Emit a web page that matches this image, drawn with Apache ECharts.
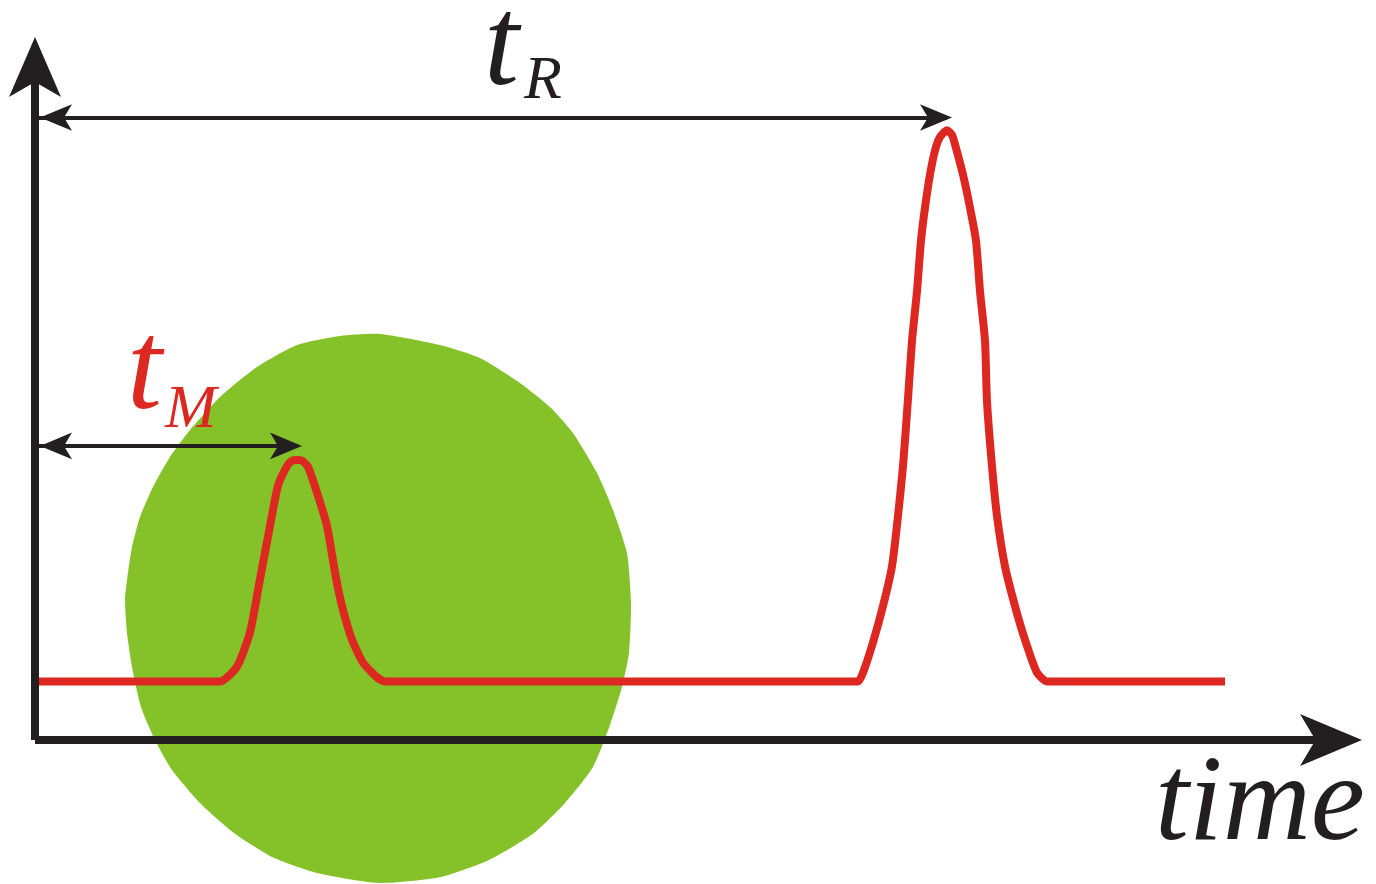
<!DOCTYPE html>
<html>
<head>
<meta charset="utf-8">
<title>Retention time</title>
<script src="https://cdn.jsdelivr.net/npm/echarts@6/dist/echarts.min.js"></script>
<style>
  html, body { margin: 0; padding: 0; background: #ffffff; }
  #main { width: 1376px; height: 884px; }
</style>
</head>
<body>
<div id="main"></div>
<script>
// Chromatogram trace: detector signal against elution time (min)
const timeMin = [
  0.03, 1.85, 2.02, 2.15, 2.25, 2.35, 2.43, 2.52, 2.57, 2.62, 2.67, 2.73, 2.83, 2.92,
  3.00, 3.07, 3.17, 3.28, 3.42, 3.50,
  8.23, 8.28, 8.38, 8.48, 8.57, 8.63, 8.68, 8.73, 8.77, 8.82, 8.86, 8.90,
  8.95, 9.00, 9.05, 9.12, 9.17, 9.20, 9.28, 9.35, 9.41, 9.45, 9.50, 9.52, 9.57, 9.62,
  9.70, 9.80, 9.90, 10.02, 10.12, 11.90
];
const signal = [
  8.7, 8.7, 10.9, 16.0, 23.9, 31.8, 37.8, 40.7, 41.5, 41.6, 41.5, 40.6, 36.3, 31.8,
  24.9, 19.9, 14.9, 11.5, 9.3, 8.7,
  8.7, 10.0, 14.5, 19.9, 25.8, 33.3, 40.7, 50.7, 59.3, 66.7, 74.2, 79.1,
  84.0, 87.6, 89.6, 90.6, 89.9, 88.5, 84.0, 79.1, 74.2, 66.7, 59.3, 50.3, 40.7, 33.3,
  25.8, 19.9, 14.9, 10.0, 8.7, 8.7
];

// Peak apexes: unretained (M) and retained (R) components
const tM = 2.62, hM = 41.6;
const tR = 9.12, hR = 90.6;

const axisName = 'time';
const labelT = 't';
const subR = 'R';
const subM = 'M';

const INK = '#231F20';
const RED = '#DC2820';
const GREEN = '#85C229';
const SERIF = '"Liberation Serif", "Times New Roman", serif';

const chart = echarts.init(document.getElementById('main'), null, { renderer: 'canvas' });

const gridBox = { left: 35, top: 67, right: 41, bottom: 144 };

// Sample spot drawn behind the first peak
const spot = [
  [380,334],[440,345],[480,358],[520,383],[550,407],[573,433],[597,473],[613,510],
  [627,553],[631,603],[629,653],[622,687],[610,725],[593,767],[565,803],[534,833],
  [489,860],[441,877],[379,883],[317,873],[272,857],[234,833],[200,803],[172,770],
  [155,740],[141,707],[132,667],[127,633],[125,600],[127,580],[132,547],[140,517],
  [153,487],[170,457],[190,430],[220,397],[257,367],[297,345],[340,336]
];

function axisCommon(extra) {
  return Object.assign({
    type: 'value',
    z: 5,
    axisTick: { show: false },
    axisLabel: { show: false },
    splitLine: { show: false }
  }, extra);
}

const option = {
  animation: false,
  backgroundColor: '#ffffff',
  grid: gridBox,
  xAxis: axisCommon({
    min: 0,
    max: 13,
    axisLine: {
      show: true,
      onZero: false,
      symbol: ['none', 'arrow'],
      symbolSize: [39, 62],
      symbolOffset: [0, 27],
      lineStyle: { color: INK, width: 8, cap: 'butt' }
    }
  }),
  yAxis: axisCommon({
    min: 0,
    max: 100,
    axisLine: {
      show: true,
      onZero: false,
      symbol: ['none', 'arrow'],
      symbolSize: [39, 60],
      symbolOffset: [0, 30],
      lineStyle: { color: INK, width: 8, cap: 'butt' }
    }
  }),
  graphic: [
    {
      id: 'spot',
      type: 'polygon',
      z: -10,
      silent: true,
      shape: { points: spot, smooth: 0.2 },
      style: { fill: GREEN }
    }
  ],
  series: [
    {
      type: 'line',
      z: 4,
      data: timeMin.map((t, i) => [t, signal[i]]),
      symbol: 'none',
      smooth: 0.2,
      lineStyle: { color: RED, width: 8, join: 'round', cap: 'butt' },
      markLine: {
        silent: true,
        animation: false,
        symbol: ['arrow', 'arrow'],
        symbolSize: [20, 32],
        symbolOffset: [[0, 5], [0, -5]],
        lineStyle: { color: INK, width: 4, type: 'solid' },
        label: { show: false },
        emphasis: { disabled: true },
        data: [
          [{ coord: [0, hR + 1.9] }, { coord: [tR, hR + 1.9] }],
          [{ coord: [0, hM + 2.1] }, { coord: [tM, hM + 2.1] }]
        ]
      }
    }
  ]
};

chart.setOption(option);

// Labels for the two time intervals and the time axis, placed from the scales
const pR = chart.convertToPixel({ gridIndex: 0 }, [tR, hR + 1.9]);
const pM = chart.convertToPixel({ gridIndex: 0 }, [tM, hM + 2.1]);
const pEnd = chart.convertToPixel({ gridIndex: 0 }, [13, 0]);

function italic(id, text, x, y, size, color, align) {
  return {
    id: id,
    type: 'text',
    z: 20,
    silent: true,
    x: x,
    y: y,
    style: {
      text: text,
      fontFamily: SERIF,
      fontStyle: 'italic',
      fontSize: size,
      fill: color,
      align: align || 'left',
      verticalAlign: 'middle'
    }
  };
}

chart.setOption({
  graphic: [
    italic('tR-t', labelT, pR[0] - 463, pR[1] - 67, 126, INK),
    italic('tR-s', subR, pR[0] - 423, pR[1] - 36, 62, INK),
    italic('tM-t', labelT, pM[0] - 170, pM[1] - 71, 126, RED),
    italic('tM-s', subM, pM[0] - 132, pM[1] - 35, 62, RED),
    italic('axis-name', axisName, pEnd[0] + 30, pEnd[1] + 67, 122, INK, 'right')
  ]
});
</script>
</body>
</html>
